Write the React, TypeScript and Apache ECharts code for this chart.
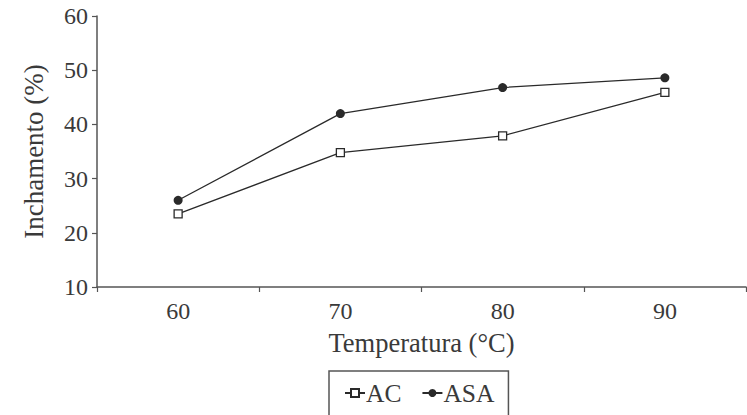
import React, { useEffect, useRef } from "react";
import * as echarts from "echarts";

const categories = ["60", "70", "80", "90"];
const acValues = [23.5, 34.8, 37.9, 45.9];
const asaValues = [26.0, 42.0, 46.8, 48.6];
const seriesNames = ["AC", "ASA"];
const xAxisName = "Temperatura (°C)";
const yAxisName = "Inchamento (%)";

const FONT = "'Liberation Serif', 'Times New Roman', serif";
const TEXT = "#3a3a3a";
const AXIS = "#555555";
const LINE = "#2a2a2a";

export default function App() {
  const ref = useRef<HTMLDivElement>(null);
  useEffect(() => {
    if (!ref.current) return;
    const chart = echarts.init(ref.current, undefined, { renderer: "svg" });
    chart.setOption({
      animation: false,
      backgroundColor: "#ffffff",
      grid: { left: 97, right: 1, top: 16, bottom: 128, containLabel: false },
      legend: {
        left: 329,
        top: 371,
        orient: "horizontal",
        data: seriesNames,
        itemWidth: 20,
        itemHeight: 10,
        itemGap: 20,
        padding: [9, 14, 30, 15],
        borderColor: AXIS,
        borderWidth: 1.5,
        textStyle: { fontFamily: FONT, fontSize: 25.5, color: TEXT, padding: [0, 0, 0, -4] },
      },
      xAxis: {
        type: "category",
        data: categories,
        boundaryGap: true,
        name: xAxisName,
        nameLocation: "middle",
        nameGap: 42,
        nameTextStyle: { fontFamily: FONT, fontSize: 26.5, color: TEXT },
        axisLine: { lineStyle: { color: AXIS, width: 1.5 } },
        axisTick: { show: true, length: 5, inside: false, lineStyle: { color: AXIS, width: 1.2 } },
        axisLabel: { fontFamily: FONT, fontSize: 24, color: TEXT, margin: 12 },
        splitLine: { show: false },
      },
      yAxis: {
        type: "value",
        min: 10,
        max: 60,
        interval: 10,
        name: yAxisName,
        nameLocation: "middle",
        nameGap: 50,
        nameRotate: 90,
        nameTextStyle: { fontFamily: FONT, fontSize: 27, color: TEXT },
        axisLine: { show: true, lineStyle: { color: AXIS, width: 1.5 } },
        axisTick: { show: true, length: 5, inside: false, lineStyle: { color: AXIS, width: 1.2 } },
        axisLabel: { fontFamily: FONT, fontSize: 24, color: TEXT, margin: 9 },
        splitLine: { show: false },
      },
      series: [
        {
          name: seriesNames[0],
          type: "line",
          data: acValues,
          symbol: "rect",
          symbolSize: 8,
          lineStyle: { color: LINE, width: 1.3 },
          itemStyle: { color: "#ffffff", borderColor: LINE, borderWidth: 1.3 },
        },
        {
          name: seriesNames[1],
          type: "line",
          data: asaValues,
          symbol: "circle",
          symbolSize: 9,
          lineStyle: { color: LINE, width: 1.3 },
          itemStyle: { color: LINE, borderColor: LINE, borderWidth: 0 },
        },
      ],
    });
    return () => chart.dispose();
  }, []);
  return <div ref={ref} style={{ width: 747, height: 415, position: "absolute", left: 0, top: 0 }} />;
}
